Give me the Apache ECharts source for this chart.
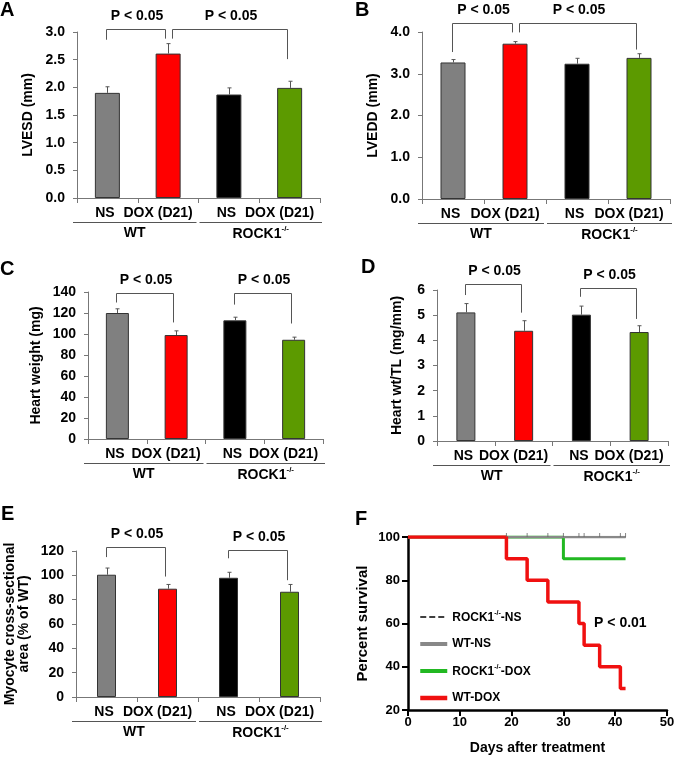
<!DOCTYPE html>
<html><head><meta charset="utf-8">
<script src="https://cdn.jsdelivr.net/npm/echarts@6/dist/echarts.min.js"></script>
<style>html,body{margin:0;padding:0;background:#fff}#c{width:680px;height:758px}</style>
</head><body><div id="c"></div>
<script>
// ---------- data ----------
const categories = ['NS', 'DOX (D21)', 'NS', 'DOX (D21)'];
const groupNames = ['WT', 'ROCK1-/-'];
const pText = 'P < 0.05';

const lvesdMean = [1.90, 2.61, 1.87, 1.99];
const lvesdSem  = [0.11, 0.18, 0.12, 0.12];
const lveddMean = [3.27, 3.72, 3.24, 3.38];
const lveddSem  = [0.07, 0.05, 0.13, 0.10];
const hwMean    = [120, 99, 113, 94.5];
const hwSem     = [4, 4, 3, 2.5];
const hwtlMean  = [5.11, 4.38, 5.02, 4.33];
const hwtlSem   = [0.35, 0.40, 0.34, 0.25];
const csaMean   = [100.5, 89, 98, 86.5];
const csaSem    = [5.5, 3.5, 4.5, 6];

// brackets: [fromCat, toCat, yLeft, yTop, yRight]
const lvesdBrackets = [[0, 1, 2.86, 3.06, 2.88], [1, 3, 2.88, 3.06, 2.51]];
const lveddBrackets = [[0, 1, 3.52, 4.22, 3.99], [1, 3, 3.99, 4.22, 3.58]];
const hwBrackets    = [[0, 1, 130, 139, 111], [2, 3, 128, 139, 110]];
const hwtlBrackets  = [[0, 1, 5.80, 6.23, 5.10], [2, 3, 5.73, 6.09, 4.85]];
const csaBrackets   = [[0, 1, 115, 123, 99], [2, 3, 114, 120.5, 96]];

// survival (day, percent)
const wtDox   = [[0, 100], [19, 90], [23, 80], [27, 70], [33, 60], [34, 50], [37, 40], [41, 30], [42, 30]];
const rockDox = [[0, 100], [30, 90], [42, 90]];
const wtNs    = [[0, 100], [42, 100]];
const rockNs  = [[0, 100], [42, 100]];
const censorDays = [19, 23, 27, 30, 33, 34, 37, 41, 42];
const survivalNames = ['ROCK1-/--NS', 'WT-NS', 'ROCK1-/--DOX', 'WT-DOX'];
const survivalP = [[41, 60, 'P < 0.01']];

// ---------- styles ----------
const FONT = 'Liberation Sans, Arial, sans-serif';
const barColors = ['#808080', '#ff0000', '#000000', '#5c9a00'];
const axisGray = '#777';

const chart = echarts.init(document.getElementById('c'), null, {renderer: 'canvas'});

const supRich = {
  b: {fontFamily: FONT, fontWeight: 'bold', fontSize: 14, fill: '#000', lineHeight: 16, verticalAlign: 'bottom'},
  s: {fontFamily: FONT, fontWeight: 'bold', fontSize: 8, fill: '#000', lineHeight: 6, verticalAlign: 'top'}
};
function richName(n) {
  return n.indexOf('ROCK1-/-') === 0 ? '{b|ROCK1}{s|-/-}' + (n.length > 8 ? '{b|' + n.slice(8) + '}' : '') : n;
}

function errRender(params, api) {
  const x = api.value(0), m = api.value(1), e = api.value(2);
  const p0 = api.coord([x, m]), p1 = api.coord([x, m + e]);
  const cx = Math.round(p0[0]) + 0.5;
  return {type: 'group', children: [
    {type: 'line', shape: {x1: cx, y1: p0[1], x2: cx, y2: p1[1]}, style: {stroke: '#555', lineWidth: 1}},
    {type: 'line', shape: {x1: cx - 2, y1: p1[1], x2: cx + 2, y2: p1[1]}, style: {stroke: '#555', lineWidth: 1}}
  ]};
}
function bracketRender(params, api) {
  const f = api.value(0), t = api.value(1);
  const a = api.coord([f, api.value(2)]), top = api.coord([f, api.value(3)]), b = api.coord([t, api.value(4)]);
  const xl = Math.round(a[0] + (f === 1 ? 4 : -1)) + 0.5;
  const xr = Math.round(b[0] - 3) + 0.5;
  const yt = Math.round(top[1]) + 0.5;
  return {type: 'group', children: [
    {type: 'polyline', shape: {points: [[xl, a[1]], [xl, yt], [xr, yt], [xr, b[1]]]}, style: {stroke: '#555', lineWidth: 1, fill: null}},
    {type: 'text', x: (xl + xr) / 2 + 1, y: yt - 13.5, style: {text: pText, font: 'bold 14px ' + FONT, fill: '#000', align: 'center', verticalAlign: 'middle'}}
  ]};
}
function groupRender(params, api) {
  const a = api.coord([api.value(0), 0]), b = api.coord([api.value(1), 0]);
  const bw = api.size([1, 0])[0];
  const gi = api.value(2);
  let x0 = a[0] - bw / 2, x1 = b[0] + bw / 2;
  if (gi === 0) { x0 -= 4; x1 -= 2; } else { x0 += 1; x1 += 2; }
  const y = Math.round(a[1] + 23.5) + 0.5;
  return {type: 'group', children: [
    {type: 'line', shape: {x1: x0, y1: y, x2: x1, y2: y}, style: {stroke: '#555', lineWidth: 1}},
    {type: 'text', x: (x0 + x1) / 2, y: a[1] + 35, style: {text: richName(groupNames[gi]), rich: supRich, font: 'bold 14px ' + FONT, fill: '#000', align: 'center', verticalAlign: 'middle'}}
  ]};
}

const panels = [
  {mean: lvesdMean, sem: lvesdSem, br: lvesdBrackets, grid: {left: 77, top: 32, width: 243, height: 166}, max: 3, interval: 0.5, dec: 1, name: 'LVESD (mm)', gap: 42, bw: 25},
  {mean: lveddMean, sem: lveddSem, br: lveddBrackets, grid: {left: 422, top: 32, width: 248, height: 167}, max: 4, interval: 1, dec: 1, name: 'LVEDD (mm)', gap: 42, bw: 25},
  {mean: hwMean, sem: hwSem, br: hwBrackets, grid: {left: 88, top: 292, width: 235, height: 147}, max: 140, interval: 20, dec: 0, name: 'Heart weight (mg)', gap: 45, bw: 23},
  {mean: hwtlMean, sem: hwtlSem, br: hwtlBrackets, grid: {left: 437, top: 290, width: 231, height: 151}, max: 6, interval: 1, dec: 0, name: 'Heart wt/TL (mg/mm)', gap: 33, bw: 19},
  {mean: csaMean, sem: csaSem, br: csaBrackets, grid: {left: 76, top: 551, width: 244, height: 146}, max: 120, interval: 20, dec: 0, name: 'Myocyte cross-sectional\narea (% of WT)', gap: 45, bw: 19}
];

const grid = [], xAxis = [], yAxis = [], series = [];
panels.forEach((p, i) => {
  grid.push(p.grid);
  xAxis.push({
    type: 'category', gridIndex: i, data: categories,
    axisLine: {lineStyle: {color: axisGray, width: 1}},
    axisTick: {show: true, length: 5, lineStyle: {color: axisGray}},
    axisLabel: {
      margin: 8, color: '#000', fontFamily: FONT, fontWeight: 'bold', fontSize: 14, interval: 0,
      formatter: v => v.indexOf('DOX') === 0 ? '{d|' + v + '}' : '{n|' + v + '}',
      rich: {
        d: {fontFamily: FONT, fontWeight: 'bold', fontSize: 14, color: '#000', padding: [0, 20, 0, 0]},
        n: {fontFamily: FONT, fontWeight: 'bold', fontSize: 14, color: '#000', padding: [0, 5, 0, 0]}
      }
    },
    splitLine: {show: false}
  });
  yAxis.push({
    type: 'value', gridIndex: i, min: 0, max: p.max, interval: p.interval,
    axisLine: {show: true, lineStyle: {color: axisGray, width: 1}},
    axisTick: {show: true, length: 4, lineStyle: {color: axisGray}},
    axisLabel: {margin: 12, color: '#000', fontFamily: FONT, fontWeight: 'bold', fontSize: 14, formatter: v => v.toFixed(p.dec)},
    splitLine: {show: false},
    name: p.name, nameLocation: 'middle', nameGap: p.gap, nameRotate: 90,
    nameTextStyle: {color: '#000', fontFamily: FONT, fontWeight: 'bold', fontSize: 14, lineHeight: 14}
  });
  series.push({
    type: 'bar', xAxisIndex: i, yAxisIndex: i, barWidth: p.bw,
    data: p.mean.map((v, k) => ({value: v, itemStyle: {color: barColors[k], borderColor: '#333', borderWidth: 1}})),
    silent: true
  });
  series.push({
    type: 'custom', xAxisIndex: i, yAxisIndex: i, renderItem: errRender, z: 5,
    encode: {x: 0, y: [1, 2]}, data: p.mean.map((v, k) => [k, v, p.sem[k]]), silent: true
  });
  series.push({
    type: 'custom', xAxisIndex: i, yAxisIndex: i, renderItem: bracketRender, z: 5, clip: false,
    encode: {x: 0, y: 3}, data: p.br, silent: true
  });
  series.push({
    type: 'custom', xAxisIndex: i, yAxisIndex: i, renderItem: groupRender, z: 5, clip: false,
    encode: {x: 0, y: 2}, data: [[0, 1, 0], [2, 3, 1]], silent: true
  });
});

// Panel F
const fi = panels.length;
grid.push({left: 408, top: 537, width: 259, height: 173});
xAxis.push({
  type: 'value', gridIndex: fi, min: 0, max: 50, interval: 10,
  axisLine: {show: true, lineStyle: {color: '#000', width: 2.5}},
  axisTick: {show: true, length: 6, lineStyle: {color: '#000', width: 2}},
  axisLabel: {margin: 6, color: '#000', fontFamily: FONT, fontWeight: 'bold', fontSize: 13},
  splitLine: {show: false},
  name: 'Days after treatment', nameLocation: 'middle', nameGap: 31,
  nameTextStyle: {color: '#000', fontFamily: FONT, fontWeight: 'bold', fontSize: 14}
});
yAxis.push({
  type: 'value', gridIndex: fi, min: 20, max: 100, interval: 20,
  axisLine: {show: true, lineStyle: {color: '#000', width: 2.5}},
  axisTick: {show: true, length: 6, lineStyle: {color: '#000', width: 2}},
  axisLabel: {margin: 8, color: '#000', fontFamily: FONT, fontWeight: 'bold', fontSize: 13},
  splitLine: {show: false},
  name: 'Percent survival', nameLocation: 'middle', nameGap: 38, nameRotate: 90,
  nameTextStyle: {color: '#000', fontFamily: FONT, fontWeight: 'bold', fontSize: 15}
});
const survStyle = {
  'ROCK1-/--NS': {data: rockNs, color: '#000', width: 1.5, type: 'dashed', legendWidth: 1.5},
  'ROCK1-/--DOX': {data: rockDox, color: '#22b822', width: 3, type: 'solid', legendWidth: 4},
  'WT-NS': {data: wtNs, color: '#888', width: 2.5, type: 'solid', legendWidth: 4},
  'WT-DOX': {data: wtDox, color: '#f01010', width: 3.5, type: 'solid', legendWidth: 4.5}
};
['ROCK1-/--NS', 'ROCK1-/--DOX', 'WT-NS', 'WT-DOX'].forEach(n => {
  const s = survStyle[n];
  series.push({
    type: 'line', name: n, xAxisIndex: fi, yAxisIndex: fi, data: s.data, step: 'end',
    symbol: 'none', color: s.color, lineStyle: {color: s.color, width: s.width, type: s.type}, silent: true
  });
});
series.push({
  type: 'scatter', xAxisIndex: fi, yAxisIndex: fi, data: censorDays.map(d => [d, 100]),
  symbol: 'rect', symbolSize: [1, 4], symbolOffset: [0, -2], itemStyle: {color: '#666'}, silent: true, z: 6
});
series.push({
  type: 'custom', xAxisIndex: fi, yAxisIndex: fi, data: survivalP, encode: {x: 0, y: 1}, silent: true,
  renderItem: (params, api) => {
    const p = api.coord([api.value(0), api.value(1)]);
    return {type: 'text', x: p[0], y: p[1], style: {text: survivalP[params.dataIndex][2], font: 'bold 14px ' + FONT, fill: '#000', align: 'center', verticalAlign: 'middle'}};
  }
});

const letterStyle = {color: '#000', fontFamily: FONT, fontWeight: 'bold', fontSize: 20};
const title = [
  ['A', 0, 0], ['B', 355, 0], ['C', 0, 259], ['D', 361, 257], ['E', 1, 504], ['F', 355, 509]
].map(t => ({text: t[0], left: t[1], top: t[2], padding: 0, textStyle: letterStyle}));

chart.setOption({
  animation: false,
  backgroundColor: '#fff',
  title,
  grid, xAxis, yAxis, series,
  legend: {
    data: survivalNames.map(n => ({name: n, lineStyle: {width: survStyle[n].legendWidth, type: survStyle[n].type, color: survStyle[n].color}})),
    orient: 'vertical', left: 413, top: 605,
    itemWidth: 27, itemHeight: 14, itemGap: 14, selectedMode: false,
    itemStyle: {opacity: 0},
    formatter: n => richName(n).replace(/\{b\|/g, '{l|').replace(/\{s\|/g, '{t|'),
    textStyle: {
      color: '#000', fontFamily: FONT, fontWeight: 'bold', fontSize: 12,
      rich: {
        l: {color: '#000', fontFamily: FONT, fontWeight: 'bold', fontSize: 12, lineHeight: 14, verticalAlign: 'bottom'},
        t: {color: '#000', fontFamily: FONT, fontWeight: 'bold', fontSize: 7, lineHeight: 5, verticalAlign: 'top'}
      }
    }
  }
});
</script>
</body></html>
